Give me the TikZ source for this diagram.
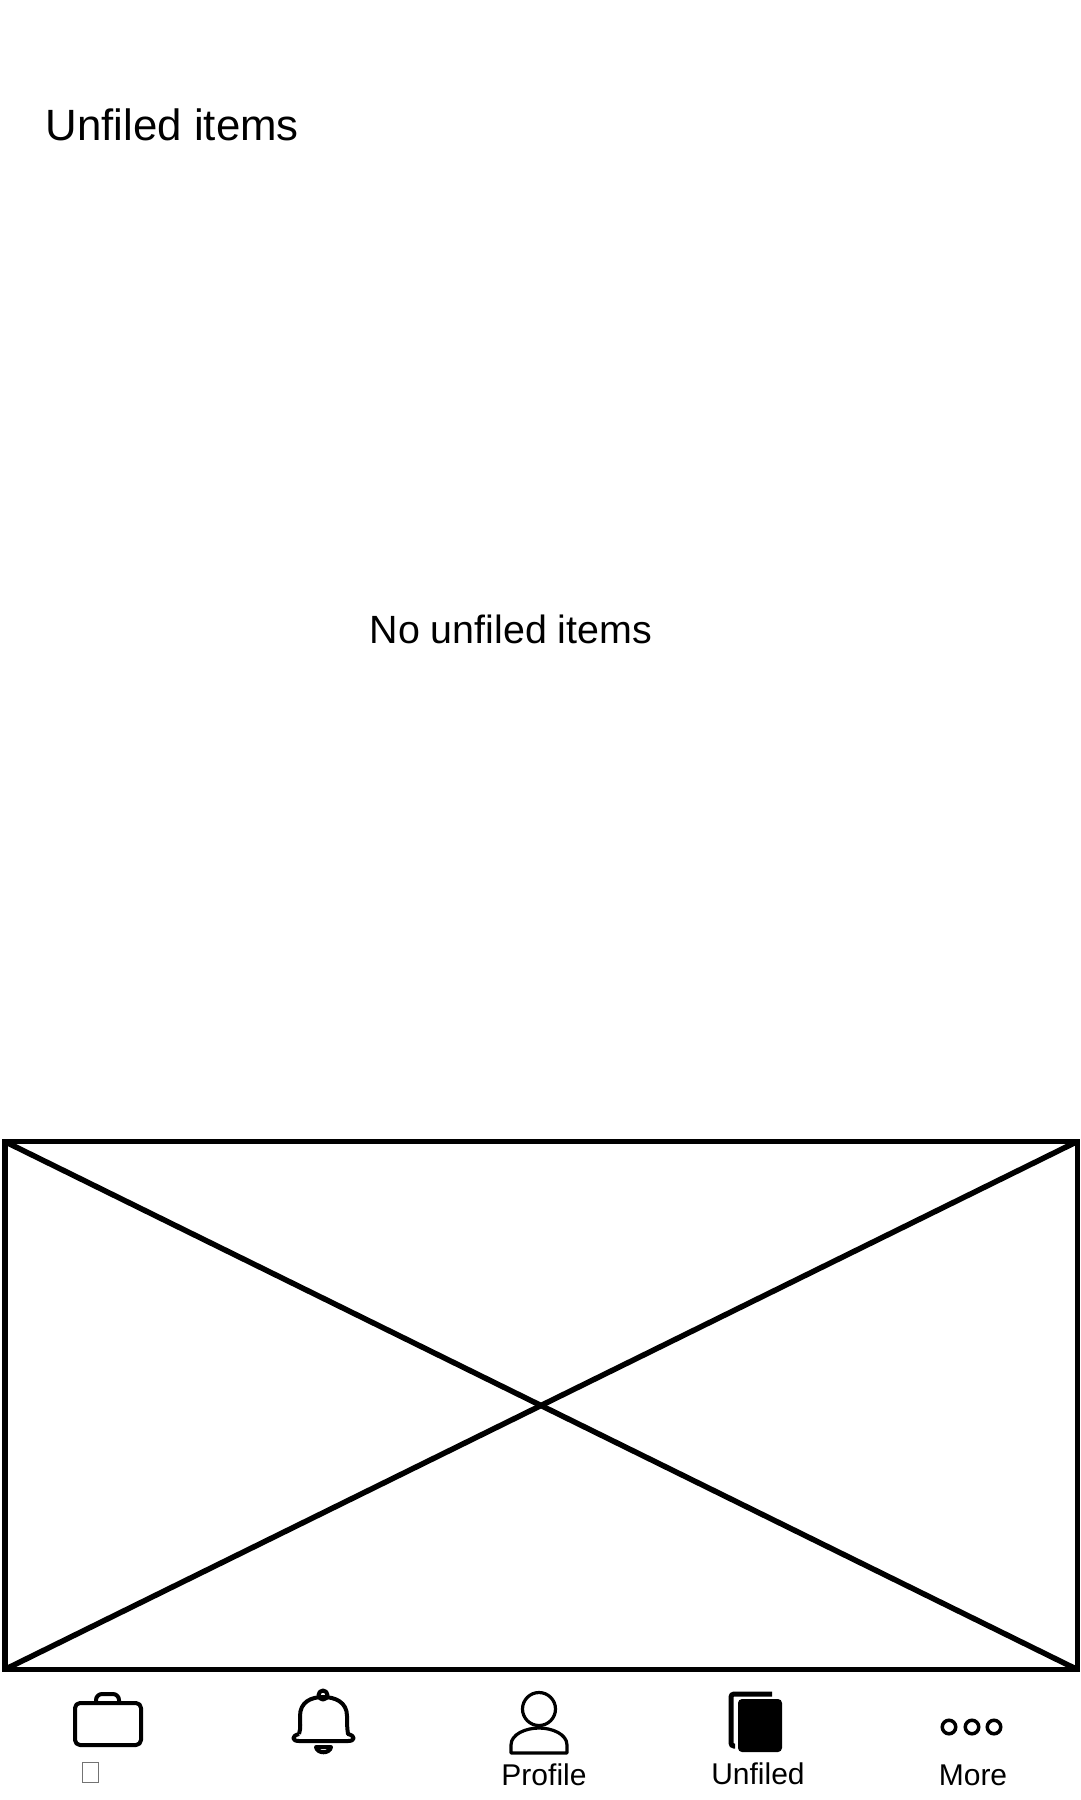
\documentclass[tikz,border=0pt]{standalone}
\usepackage{fontspec}
\setmainfont{Liberation Sans}
\begin{document}
\begin{tikzpicture}[x=1pt,y=-1pt]

    \tikzset{
      heading/.style={anchor=base west,inner sep=0pt,font=\fontsize{43.8}{50}\selectfont},
      message/.style={anchor=base west,inner sep=0pt,font=\fontsize{39.4}{46}\selectfont},
      tablabel/.style={anchor=base,inner sep=0pt,font=\fontsize{30}{36}\selectfont},
      placeholder/.style={draw,line width=5.5pt,outer sep=0pt,inner sep=0pt,minimum width=1072.5pt,minimum height=528pt},
      tabicon/.style={draw,line width=4pt,line join=round},
      thinicon/.style={draw,line width=3.2pt,line join=round},
      missingglyph/.style={draw=black!55,line width=0.8pt,inner sep=0pt,minimum width=16pt,minimum height=20pt},
      moredot/.style={circle,draw,line width=3.5pt,inner sep=0pt,minimum size=13.5pt},
    }
    \useasboundingbox (0,0) rectangle (1080,1800);
    \node[heading] (title) at (45.5,140) {Unfiled items};
    \node[message] (empty) at (369.5,643) {No unfiled items};
    \node[placeholder] (frame) at (541,1405.5) {};
	\draw[line width=5.5pt] (frame.north west)--(frame.south east);
	\draw[line width=5.5pt] (frame.north east)--(frame.south west);

	% briefcase
	\draw[tabicon,rounded corners=5pt] (75,1703) rectangle (141,1745);
	\draw[tabicon,rounded corners=6pt] (96,1703)--(96,1694)--(119,1694)--(119,1703);
	\node[missingglyph] (tabone) at (90,1772) {};

	% bell
	\draw[tabicon] (299,1734) .. controls (301,1728) and (300,1722) .. (300,1716)
	  .. controls (300,1702) and (311,1697) .. (323,1697)
	  .. controls (335,1697) and (347,1702) .. (347,1716)
	  .. controls (347,1722) and (347,1728) .. (348,1734)
	  .. controls (356,1736) and (355,1741) .. (348,1741)
	  -- (299,1741) .. controls (292,1741) and (291,1736) .. (299,1734);
	\draw[tabicon] (323,1695) circle (4.5pt);
	\draw[tabicon] (316,1747) -- (331,1747) .. controls (330,1754) and (317,1754) .. (316,1747) -- cycle;

	% person
	\draw[thinicon] (539,1709) circle (16.5pt);
	\draw[thinicon] (511,1753) -- (511,1745) .. controls (511,1734) and (526,1728) .. (539,1728)
	  .. controls (552,1728) and (567,1734) .. (567,1745) -- (567,1753) -- cycle;
	\node[tablabel] (profile) at (544,1785) {Profile};

	% documents
	\draw[rounded corners=3pt,line width=5pt] (735,1746) -- (731,1746) -- (731,1694) -- (772,1694);
	\fill[rounded corners=4pt] (738,1699) rectangle (782,1752);
	\node[tablabel] (unfiled) at (758,1784) {Unfiled};

	% more
	\node[moredot] (dotone) at (949,1727) {};
	\node[moredot] (dottwo) at (972,1727) {};
	\node[moredot] (dotthree) at (994,1727) {};
	\node[tablabel] (more) at (973,1785) {More};

\end{tikzpicture}
\end{document}
